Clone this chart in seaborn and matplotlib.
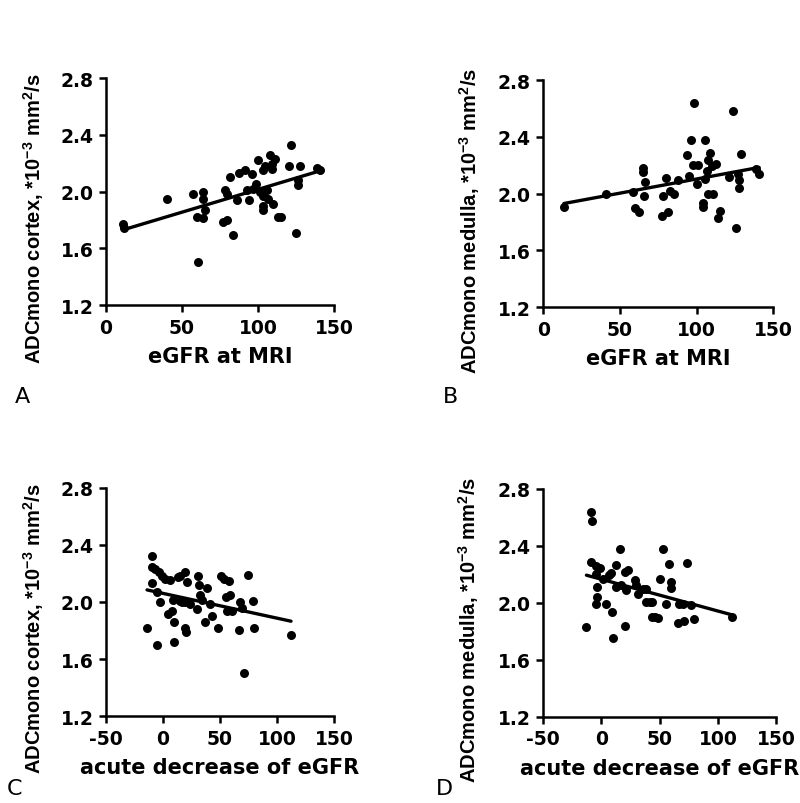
import matplotlib
matplotlib.use("Agg")
import matplotlib.pyplot as plt
import seaborn as sns

# --- data ---
# A: eGFR at MRI vs ADCmono cortex
egfr_mri_a = [11.4, 12, 39.9, 57.5, 64, 64, 59.6, 64, 65, 60.7, 78.3, 79.4, 81.6, 77.2, 79.8, 83.8,
              86, 87.7, 91.4, 94.3, 95.8, 92.5, 97, 99, 100.2, 101, 103, 103.5, 103, 105.7, 106.8,
              103.5, 104.6, 107.9, 109, 111.2, 109, 109.6, 113.4, 115, 120.6, 122, 127.6, 124.8,
              126.5, 126.5, 138.6, 140.8]
adc_cortex_a = [1.77, 1.745, 1.945, 1.985, 1.996, 1.95, 1.82, 1.81, 1.87, 1.50, 2.01, 1.985, 2.10,
                1.785, 1.80, 1.69, 1.94, 2.13, 2.15, 1.94, 2.12, 2.01, 2.02, 2.05, 2.22, 2.00, 1.97,
                1.90, 1.87, 2.01, 1.95, 2.15, 2.18, 2.255, 2.196, 2.23, 2.16, 1.914, 1.82, 1.82,
                2.18, 2.325, 2.18, 1.71, 2.08, 2.045, 2.166, 2.154]

# B: eGFR at MRI vs ADCmono medulla
egfr_mri_b = [13.5, 40.9, 58.7, 59.8, 62.4, 65.2, 65.2, 66.3, 65.7, 78.3, 80.4, 77.8, 81.5, 82.6,
              85.4, 88, 93.5, 95.2, 96.7, 98.3, 97.8, 100, 101, 105.4, 104.3, 104.3, 105.4, 106.5,
              107.6, 108.7, 110.9, 107.6, 109.8, 113, 114, 115.6, 121.3, 123.5, 126, 127, 128, 128,
              129, 138.6, 140.8]
adc_medulla_b = [1.903, 1.994, 2.01, 1.90, 1.87, 2.18, 2.15, 2.08, 1.985, 1.98, 2.11, 1.84, 1.87,
                 2.02, 1.996, 2.095, 2.27, 2.125, 2.38, 2.636, 2.20, 2.067, 2.20, 2.38, 1.933, 1.903,
                 2.10, 2.16, 2.235, 2.285, 1.996, 1.996, 2.196, 2.207, 1.826, 1.88, 2.114, 2.58,
                 1.755, 2.137, 2.097, 2.04, 2.28, 2.17, 2.14]

# C: acute decrease of eGFR vs ADCmono cortex
decrease_c = [-14, -9.6, -9.6, -9.6, -6.7, -3.8, -5.3, -2.3, -5.3, -0.9, 2, 6.4, 4.1, 7.9, 8.8, 9.4,
              9.4, 12.9, 14.6, 15.2, 16.7, 19.6, 21, 19.6, 19, 20, 24, 29.8, 30.4, 31.3, 32.2, 34.2,
              38.6, 37.1, 41.5, 43, 48, 50.9, 53.8, 57.6, 55.6, 59, 56.1, 60.5, 66.4, 67.3, 69.3,
              70.8, 74.3, 78.7, 80.1, 112.3]
adc_cortex_c = [1.817, 2.326, 2.249, 2.131, 2.232, 2.209, 2.073, 2.002, 1.697, 2.181, 2.162, 2.157,
                1.916, 1.939, 2.014, 1.862, 1.716, 2.174, 2.185, 2.009, 1.998, 2.213, 2.138, 1.998,
                1.815, 1.786, 1.986, 1.951, 2.181, 2.12, 2.049, 2.014, 2.096, 1.862, 1.986, 1.904,
                1.817, 2.185, 2.162, 2.15, 2.033, 2.049, 1.939, 1.939, 1.803, 1.998, 1.955, 1.505,
                2.19, 2.009, 1.817, 1.768]

# D: acute decrease of eGFR vs ADCmono medulla
decrease_d = [-12.9, -8.6, -7.7, -8.6, -4.3, -4.9, -3.7, -3.7, -4.9, -1.4, 1.4, 4.3, 6.6, 8.6, 9.4,
              10, 12.9, 12.3, 16.3, 17.2, 20, 22.9, 21.5, 20, 28.6, 30, 31.5, 35.8, 38.6, 38.6,
              41.5, 43.5, 43, 45.8, 48.7, 50.7, 53, 55.8, 58.1, 60.1, 60.1, 66.7, 65.8, 69.6, 70.7,
              73.6, 77.3, 79.3, 111.7]
adc_medulla_d = [1.828, 2.641, 2.578, 2.286, 2.256, 2.204, 2.111, 2.041, 1.994, 2.244, 2.169, 1.994,
                 2.193, 2.211, 1.94, 1.753, 2.263, 2.111, 2.38, 2.123, 2.216, 2.228, 2.088, 1.838,
                 2.162, 2.123, 2.064, 2.099, 2.099, 2.01, 2.01, 2.01, 1.901, 1.901, 1.896, 2.169,
                 2.38, 1.994, 2.274, 2.146, 2.104, 1.994, 1.861, 1.994, 1.87, 2.281, 1.987, 1.884,
                 1.90]

y_ticks = [1.2, 1.6, 2.0, 2.4, 2.8]
x_ticks_mri = [0, 50, 100, 150]
x_ticks_dec = [-50, 0, 50, 100, 150]

sns.set_style("ticks", {"axes.edgecolor": "black", "text.color": "black",
                        "axes.labelcolor": "black", "xtick.color": "black",
                        "ytick.color": "black"})
plt.rcParams['font.family'] = ['DejaVu Sans']
plt.rcParams['mathtext.default'] = 'regular'
plt.rcParams['axes.unicode_minus'] = False

fig = plt.figure(figsize=(8, 8.04), dpi=100)

panels = [
    # x, y, xlabel, ylabel, xticks, letter, axes rect, letter pos
    (egfr_mri_a, adc_cortex_a, "eGFR at MRI", "ADCmono cortex, *10$^{-3}$ mm$^2$/s",
     x_ticks_mri, "A", [0.1325, 0.6194, 0.285, 0.2823], (0.019, 0.4988)),
    (egfr_mri_b, adc_medulla_b, "eGFR at MRI", "ADCmono medulla, *10$^{-3}$ mm$^2$/s",
     x_ticks_mri, "B", [0.679, 0.6169, 0.2875, 0.2823], (0.553, 0.4988)),
    (decrease_c, adc_cortex_c, "acute decrease of eGFR", "ADCmono cortex, *10$^{-3}$ mm$^2$/s",
     x_ticks_dec, "C", [0.1325, 0.1082, 0.285, 0.2836], (0.009, 0.011)),
    (decrease_d, adc_medulla_d, "acute decrease of eGFR", "ADCmono medulla, *10$^{-3}$ mm$^2$/s",
     x_ticks_dec, "D", [0.679, 0.1070, 0.2912, 0.2836], (0.545, 0.011)),
]

for xs, ys, xlab, ylab, xt, letter, rect, lpos in panels:
    ax = fig.add_axes(rect)
    sns.regplot(x=xs, y=ys, ax=ax, ci=None, color="black",
                scatter_kws=dict(s=42, alpha=1, linewidths=0, clip_on=False),
                line_kws=dict(lw=2.4))
    ax.set_xlim(xt[0], xt[-1])
    ax.set_ylim(1.2, 2.8)
    ax.set_xticks(xt)
    ax.set_yticks(y_ticks)
    ax.set_yticklabels([f"{v:.1f}" for v in y_ticks])
    sns.despine(ax=ax)
    for side in ["left", "bottom"]:
        ax.spines[side].set_linewidth(1.8)
        ax.spines[side].set_color("black")
    ax.tick_params(axis="both", length=5, width=1.8, pad=4, labelsize=13.5, direction="out",
                   colors="black")
    for lab in ax.get_xticklabels() + ax.get_yticklabels():
        lab.set_fontweight("bold")
    ax.set_xlabel(xlab, fontsize=15, fontweight="bold", labelpad=7, color="black")
    # rotated label: narrower Arial-like face keeps its length close to the original
    ax.set_ylabel(ylab, fontsize=14.5, fontweight="bold", color="black",
                  family=["Liberation Sans", "DejaVu Sans"])
    ax.yaxis.set_label_coords(-0.265, 0.385)
    fig.text(lpos[0], lpos[1], letter, fontsize=16, va="baseline", ha="left", color="black")

fig.savefig("out.png", dpi=100, facecolor="white")
